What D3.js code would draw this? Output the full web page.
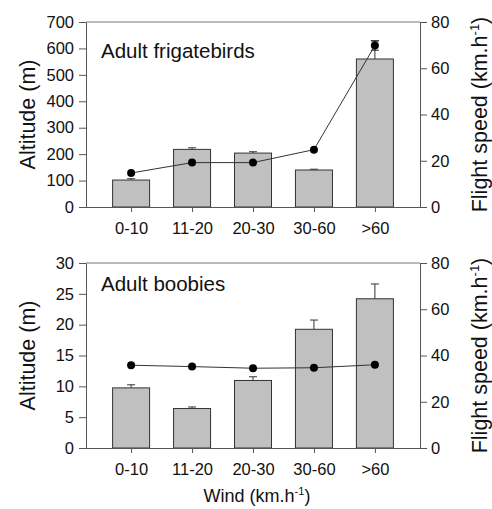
<!DOCTYPE html>
<html>
<head>
<meta charset="utf-8">
<script src="https://cdn.jsdelivr.net/npm/d3@7"></script>
<style>
  body { margin: 0; background: #fff; }
  svg text { font-family: "Liberation Sans", Arial, sans-serif; fill: #111; }
</style>
</head>
<body>
<svg id="chart" width="492" height="509"></svg>
<script>
// wind categories
var windClasses = ["0-10", "11-20", "20-30", "30-60", ">60"];

// adult frigatebirds
var frigAltitude = [102, 218, 204, 140, 560];
var frigAltErr = [5, 6, 5, 3, 69];
var frigSpeed = [14.7, 19.2, 19.2, 24.8, 69.8];
var frigSpeedErr = [0, 0, 0, 0, 2];

// adult boobies
var boobAltitude = [9.75, 6.4, 10.95, 19.25, 24.2];
var boobAltErr = [0.5, 0.25, 0.6, 1.5, 2.4];
var boobSpeed = [35.8, 35.2, 34.5, 34.7, 36.0];
var boobSpeedErr = [0, 0, 0, 0, 0];

var altTicksTop = [0, 100, 200, 300, 400, 500, 600, 700];
var altTicksBottom = [0, 5, 10, 15, 20, 25, 30];
var speedTicks = [0, 20, 40, 60, 80];

var svg = d3.select("#chart");
var left = 86, right = 420;

function panel(opts) {
  var top = opts.top, bottom = opts.top + 185;
  var g = svg.append("g");

  var x = d3.scalePoint().domain(windClasses).range([left, right]).padding(0.74);
  var y = d3.scaleLinear().domain([0, opts.altMax]).range([bottom, top]);
  var y2 = d3.scaleLinear().domain([0, 80]).range([bottom, top]);
  var bw = 37;

  // frame top
  g.append("line").attr("x1", left).attr("x2", right).attr("y1", top).attr("y2", top)
    .attr("stroke", "#777").attr("stroke-width", 1);

  var data = windClasses.map(function (c, i) {
    return { c: c, alt: opts.alt[i], err: opts.altErr[i], sp: opts.speed[i], spErr: opts.speedErr[i] };
  });

  // error bars (above bars)
  g.selectAll(".eb").data(data).enter().append("path")
    .attr("fill", "none").attr("stroke", "#333").attr("stroke-width", 1)
    .attr("d", function (d) {
      var cx = x(d.c), yt = y(d.alt + d.err);
      return "M" + cx + "," + y(d.alt) + "V" + yt + "M" + (cx - 4) + "," + yt + "H" + (cx + 4);
    });

  g.selectAll(".bar").data(data).enter().append("rect")
    .attr("x", function (d) { return x(d.c) - bw / 2; })
    .attr("y", function (d) { return y(d.alt); })
    .attr("width", bw)
    .attr("height", function (d) { return bottom - y(d.alt); })
    .attr("fill", "#c0c0c0").attr("stroke", "#333").attr("stroke-width", 1);

  // speed error bars
  g.selectAll(".seb").data(data.filter(function (d) { return d.spErr > 0; })).enter().append("path")
    .attr("fill", "none").attr("stroke", "#222").attr("stroke-width", 1)
    .attr("d", function (d) {
      var cx = x(d.c), a = y2(d.sp + d.spErr), b = y2(d.sp - d.spErr);
      return "M" + cx + "," + a + "V" + b + "M" + (cx - 4) + "," + a + "H" + (cx + 4) +
        "M" + (cx - 4) + "," + b + "H" + (cx + 4);
    });

  // speed line
  g.append("path").datum(data)
    .attr("fill", "none").attr("stroke", "#333").attr("stroke-width", 1)
    .attr("d", d3.line().x(function (d) { return x(d.c); }).y(function (d) { return y2(d.sp); }));

  g.selectAll(".dot").data(data).enter().append("circle")
    .attr("cx", function (d) { return x(d.c); })
    .attr("cy", function (d) { return y2(d.sp); })
    .attr("r", 4).attr("fill", "#000");

  // axes
  var ax = g.append("g").attr("transform", "translate(0," + bottom + ")")
    .call(d3.axisBottom(x).tickSize(5).tickPadding(10).tickSizeOuter(0));
  var ay = g.append("g").attr("transform", "translate(" + left + ",0)")
    .call(d3.axisLeft(y).tickValues(opts.altTicks).tickSize(7).tickPadding(5).tickSizeOuter(0));
  var ay2 = g.append("g").attr("transform", "translate(" + right + ",0)")
    .call(d3.axisRight(y2).tickValues(speedTicks).tickSize(7).tickPadding(4).tickSizeOuter(0));
  [ax, ay, ay2].forEach(function (a) {
    a.selectAll("text").style("font-size", "16.5px").attr("fill", "#111");
    a.selectAll("line").attr("stroke", "#555");
    a.select(".domain").attr("stroke", "#555");
  });
  ax.select(".domain").attr("d", "M" + left + ",0.5H" + right);

  // panel label
  g.append("text").attr("x", 101).attr("y", top + opts.labelDy)
    .style("font-size", "20.5px").text(opts.label);

  // axis titles
  g.append("text").attr("transform", "translate(35," + ((top + bottom) / 2) + ") rotate(-90)")
    .attr("text-anchor", "middle").style("font-size", "21.5px").text("Altitude (m)");
  var t2 = g.append("text").attr("transform", "translate(487," + ((top + bottom) / 2) + ") rotate(-90)")
    .attr("text-anchor", "middle").style("font-size", "21.5px");
  t2.append("tspan").text("Flight speed (km.h");
  t2.append("tspan").attr("dy", -8).style("font-size", "13px").text("-1");
  t2.append("tspan").attr("dy", 8).text(")");
}

panel({ top: 22, altMax: 700, alt: frigAltitude, altErr: frigAltErr, speed: frigSpeed,
  speedErr: frigSpeedErr, altTicks: altTicksTop, label: "Adult frigatebirds", labelDy: 36 });
panel({ top: 263, altMax: 30, alt: boobAltitude, altErr: boobAltErr, speed: boobSpeed,
  speedErr: boobSpeedErr, altTicks: altTicksBottom, label: "Adult boobies", labelDy: 28 });

// x axis title
var wt = svg.append("text").attr("x", 257).attr("y", 502).attr("text-anchor", "middle")
  .style("font-size", "18px");
wt.append("tspan").text("Wind (km.h");
wt.append("tspan").attr("dy", -7).style("font-size", "11px").text("-1");
wt.append("tspan").attr("dy", 7).text(")");
</script>
</body>
</html>
